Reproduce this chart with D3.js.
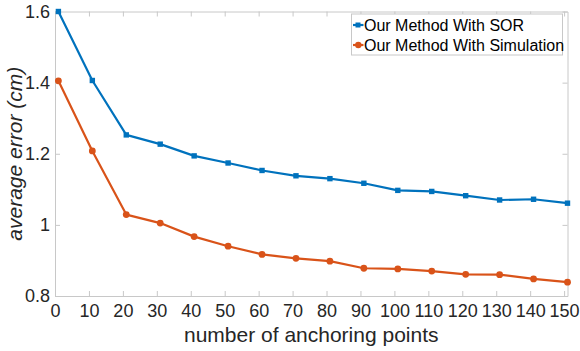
<!DOCTYPE html>
<html lang="en">
<head>
<meta charset="UTF-8">
<title>Average error vs anchoring points</title>
<script src="https://cdnjs.cloudflare.com/ajax/libs/d3/7.8.5/d3.min.js"></script>
<style>
  body { margin: 0; padding: 0; background: #fff; }
  svg { display: block; font-family: Arial, "Liberation Sans", sans-serif; }
</style>
</head>
<body>
<div id="chart"></div>
<script>
// data
const anchorPoints = [1, 11, 21, 31, 41, 51, 61, 71, 81, 91, 101, 111, 121, 131, 141, 151];
const sorError = [1.600, 1.406, 1.253, 1.227, 1.194, 1.174, 1.153, 1.138, 1.130, 1.117, 1.097, 1.094, 1.082, 1.070, 1.072, 1.061];
const simError = [1.405, 1.208, 1.029, 1.005, 0.967, 0.940, 0.917, 0.906, 0.898, 0.878, 0.876, 0.870, 0.861, 0.860, 0.848, 0.839];
const seriesNames = ["Our Method With SOR", "Our Method With Simulation"];
const xTicks = [0, 10, 20, 30, 40, 50, 60, 70, 80, 90, 100, 110, 120, 130, 140, 150];
const yTicks = [0.8, 1, 1.2, 1.4, 1.6];

const width = 580, height = 351;
const margin = {top: 11.5, right: 12.5, bottom: 55, left: 55};
const textColor = "#262626";
const axisColor = "#c8c8c8";

const svg = d3.select("#chart").append("svg")
    .attr("width", width)
    .attr("height", height);

const x = d3.scaleLinear().domain([0, 151]).range([margin.left, width - margin.right]);
const y = d3.scaleLinear().domain([0.8, 1.6]).range([height - margin.bottom, margin.top]);

// axes, MATLAB style: ticks inward on every side
function styleAxis(g) {
    g.select(".domain").attr("stroke", axisColor);
    g.selectAll(".tick line").attr("stroke", axisColor);
    g.selectAll(".tick text").attr("fill", textColor).attr("font-size", 18);
}

svg.append("g")
    .attr("transform", `translate(0,${y.range()[0]})`)
    .call(d3.axisBottom(x).tickValues(xTicks).tickSize(-5).tickPadding(8).tickSizeOuter(0))
    .call(styleAxis);

svg.append("g")
    .attr("transform", `translate(0,${y.range()[1]})`)
    .call(d3.axisTop(x).tickValues(xTicks).tickSize(-5).tickFormat("").tickSizeOuter(0))
    .call(styleAxis);

svg.append("g")
    .attr("transform", `translate(${x.range()[0]},0)`)
    .call(d3.axisLeft(y).tickValues(yTicks).tickSize(-5).tickPadding(5).tickSizeOuter(0).tickFormat(d3.format("")))
    .call(styleAxis);

svg.append("g")
    .attr("transform", `translate(${x.range()[1]},0)`)
    .call(d3.axisRight(y).tickValues(yTicks).tickSize(-5).tickFormat("").tickSizeOuter(0))
    .call(styleAxis);

// axis titles
svg.append("text")
    .attr("x", (x.range()[0] + x.range()[1]) / 2)
    .attr("y", 342)
    .attr("text-anchor", "middle")
    .attr("font-size", 21)
    .attr("fill", textColor)
    .text("number of anchoring points");

svg.append("text")
    .attr("transform", `translate(22,${(y.range()[0] + y.range()[1]) / 2}) rotate(-90)`)
    .attr("text-anchor", "middle")
    .attr("font-size", 21)
    .attr("font-style", "italic")
    .attr("fill", textColor)
    .text("average error (cm)");

// series
const series = [
    {name: seriesNames[0], values: sorError, color: "#0072BD", marker: "square"},
    {name: seriesNames[1], values: simError, color: "#D95319", marker: "circle"}
];

const line = d3.line()
    .x(d => x(d[0]))
    .y(d => y(d[1]));

series.forEach(s => {
    const pts = anchorPoints.map((a, i) => [a, s.values[i]]);
    const g = svg.append("g");
    g.append("path")
        .datum(pts)
        .attr("fill", "none")
        .attr("stroke", s.color)
        .attr("stroke-width", 2.2)
        .attr("stroke-linejoin", "round")
        .attr("d", line);
    if (s.marker === "square") {
        g.selectAll("rect")
            .data(pts)
            .join("rect")
            .attr("x", d => x(d[0]) - 2.7)
            .attr("y", d => y(d[1]) - 2.7)
            .attr("width", 5.4)
            .attr("height", 5.4)
            .attr("fill", s.color);
    } else {
        g.selectAll("circle")
            .data(pts)
            .join("circle")
            .attr("cx", d => x(d[0]))
            .attr("cy", d => y(d[1]))
            .attr("r", 3.4)
            .attr("fill", s.color);
    }
});

// legend
const legend = svg.append("g").attr("transform", "translate(351.5,14)");
legend.append("rect")
    .attr("width", 211)
    .attr("height", 41)
    .attr("fill", "#fff")
    .attr("stroke", axisColor);

series.forEach((s, i) => {
    const cy = 11 + i * 20;
    legend.append("line")
        .attr("x1", 1.5).attr("x2", 12)
        .attr("y1", cy).attr("y2", cy)
        .attr("stroke", s.color)
        .attr("stroke-width", 2.2);
    if (s.marker === "square") {
        legend.append("rect")
            .attr("x", 4).attr("y", cy - 2.5)
            .attr("width", 5).attr("height", 5)
            .attr("fill", s.color);
    } else {
        legend.append("circle")
            .attr("cx", 6.8).attr("cy", cy)
            .attr("r", 3.2)
            .attr("fill", s.color);
    }
    legend.append("text")
        .attr("x", 12.5)
        .attr("y", cy + 6)
        .attr("font-size", 16)
        .attr("fill", "#000")
        .text(s.name);
});
</script>
</body>
</html>
